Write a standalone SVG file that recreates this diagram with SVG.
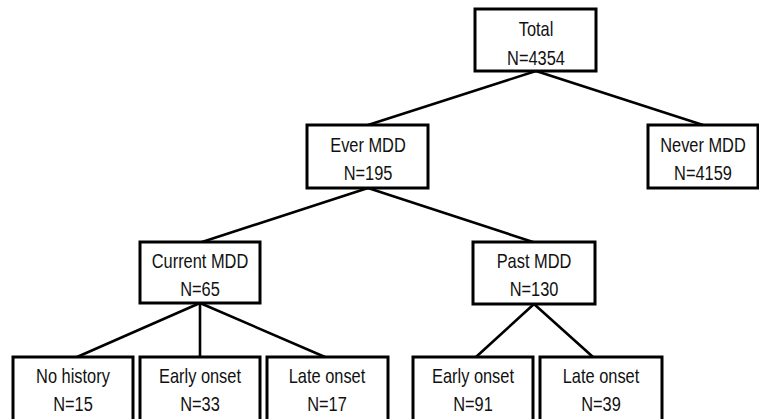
<svg xmlns="http://www.w3.org/2000/svg" width="759" height="419" viewBox="0 0 759 419">
<style>
.box{fill:#fff;stroke:#000;stroke-width:3}
.lbl{font-family:"Liberation Sans",Arial,sans-serif;font-size:20.5px;fill:#111;text-anchor:middle}
.con line{stroke:#000;stroke-width:2.6;stroke-linecap:round}
</style>
<rect width="759" height="419" fill="#fff"/>
<g id="connectors" class="con">
<line x1="536" y1="71" x2="368" y2="125"/>
<line x1="536" y1="71" x2="703" y2="125"/>
<line x1="368" y1="188" x2="202" y2="242"/>
<line x1="368" y1="188" x2="533" y2="242"/>
<line x1="200" y1="303" x2="77" y2="357"/>
<line x1="200" y1="303" x2="200" y2="357"/>
<line x1="200" y1="303" x2="325" y2="357"/>
<line x1="534" y1="304" x2="476" y2="357"/>
<line x1="534" y1="304" x2="593" y2="357"/>
</g>
<g id="total"><rect class="box" x="475" y="9" width="121" height="62"/><text class="lbl" transform="translate(536 36) scale(0.8 1)">Total</text><text class="lbl" transform="translate(536 65) scale(0.8 1)">N=4354</text></g>
<g id="ever"><rect class="box" x="307" y="125" width="121" height="63"/><text class="lbl" transform="translate(368 152) scale(0.8 1)">Ever MDD</text><text class="lbl" transform="translate(368 180) scale(0.8 1)">N=195</text></g>
<g id="never"><rect class="box" x="648" y="125" width="110" height="63"/><text class="lbl" transform="translate(703 152) scale(0.8 1)">Never MDD</text><text class="lbl" transform="translate(703 180) scale(0.8 1)">N=4159</text></g>
<g id="current"><rect class="box" x="140" y="242" width="120" height="61"/><text class="lbl" transform="translate(200 268) scale(0.8 1)">Current MDD</text><text class="lbl" transform="translate(200 296) scale(0.8 1)">N=65</text></g>
<g id="past"><rect class="box" x="473" y="242" width="122" height="62"/><text class="lbl" transform="translate(534 268) scale(0.8 1)">Past MDD</text><text class="lbl" transform="translate(534 296) scale(0.8 1)">N=130</text></g>
<g id="nohist"><rect class="box" x="13" y="357" width="120" height="70"/><text class="lbl" transform="translate(73 383) scale(0.8 1)">No history</text><text class="lbl" transform="translate(73 411) scale(0.8 1)">N=15</text></g>
<g id="early1"><rect class="box" x="140" y="357" width="120" height="70"/><text class="lbl" transform="translate(200 383) scale(0.8 1)">Early onset</text><text class="lbl" transform="translate(200 411) scale(0.8 1)">N=33</text></g>
<g id="late1"><rect class="box" x="267" y="357" width="121" height="70"/><text class="lbl" transform="translate(327 383) scale(0.8 1)">Late onset</text><text class="lbl" transform="translate(327 411) scale(0.8 1)">N=17</text></g>
<g id="early2"><rect class="box" x="413" y="357" width="120" height="70"/><text class="lbl" transform="translate(473 383) scale(0.8 1)">Early onset</text><text class="lbl" transform="translate(473 411) scale(0.8 1)">N=91</text></g>
<g id="late2"><rect class="box" x="540" y="357" width="122" height="70"/><text class="lbl" transform="translate(601 383) scale(0.8 1)">Late onset</text><text class="lbl" transform="translate(601 411) scale(0.8 1)">N=39</text></g>
</svg>
